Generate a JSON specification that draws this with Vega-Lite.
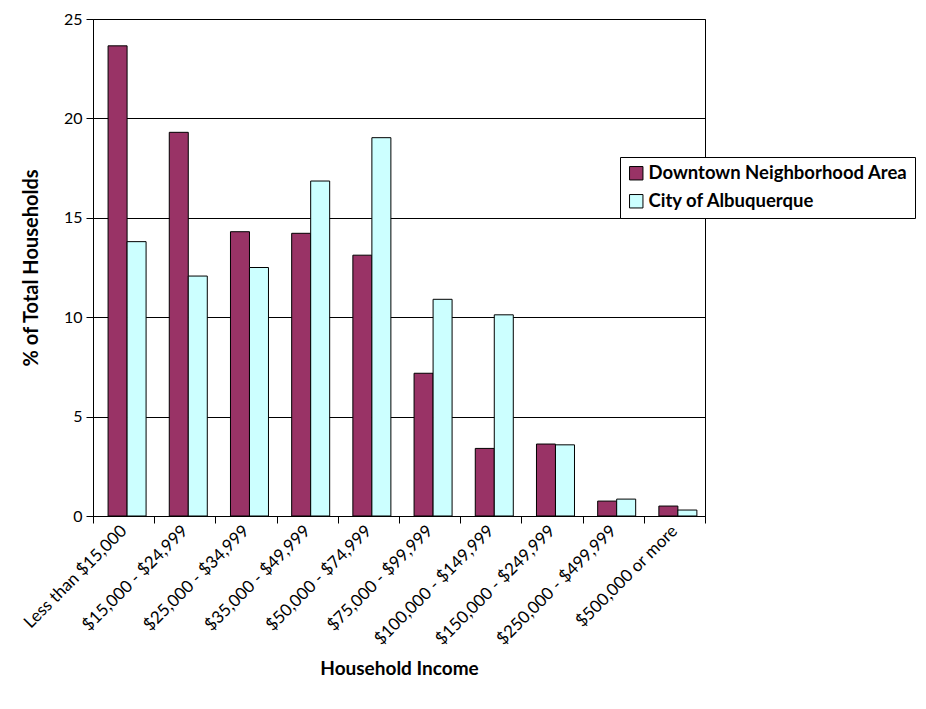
{
  "$schema": "https://vega.github.io/schema/vega-lite/v6.json",
  "width": 612,
  "height": 497,
  "autosize": "none",
  "padding": {"left": 93, "top": 19, "right": 221, "bottom": 193},
  "background": "white",
  "config": {"view": {"stroke": "black", "strokeWidth": 1}, "font": "Lato"},
  "data": {"values": [
    {"income": "Less than $15,000", "area": "Downtown Neighborhood Area", "pct": 23.65},
    {"income": "Less than $15,000", "area": "City of Albuquerque", "pct": 13.8},
    {"income": "$15,000 - $24,999", "area": "Downtown Neighborhood Area", "pct": 19.3},
    {"income": "$15,000 - $24,999", "area": "City of Albuquerque", "pct": 12.07},
    {"income": "$25,000 - $34,999", "area": "Downtown Neighborhood Area", "pct": 14.3},
    {"income": "$25,000 - $34,999", "area": "City of Albuquerque", "pct": 12.5},
    {"income": "$35,000 - $49,999", "area": "Downtown Neighborhood Area", "pct": 14.22},
    {"income": "$35,000 - $49,999", "area": "City of Albuquerque", "pct": 16.85},
    {"income": "$50,000 - $74,999", "area": "Downtown Neighborhood Area", "pct": 13.12},
    {"income": "$50,000 - $74,999", "area": "City of Albuquerque", "pct": 19.03},
    {"income": "$75,000 - $99,999", "area": "Downtown Neighborhood Area", "pct": 7.18},
    {"income": "$75,000 - $99,999", "area": "City of Albuquerque", "pct": 10.9},
    {"income": "$100,000 - $149,999", "area": "Downtown Neighborhood Area", "pct": 3.4},
    {"income": "$100,000 - $149,999", "area": "City of Albuquerque", "pct": 10.12},
    {"income": "$150,000 - $249,999", "area": "Downtown Neighborhood Area", "pct": 3.62},
    {"income": "$150,000 - $249,999", "area": "City of Albuquerque", "pct": 3.58},
    {"income": "$250,000 - $499,999", "area": "Downtown Neighborhood Area", "pct": 0.75},
    {"income": "$250,000 - $499,999", "area": "City of Albuquerque", "pct": 0.85},
    {"income": "$500,000 or more", "area": "Downtown Neighborhood Area", "pct": 0.5},
    {"income": "$500,000 or more", "area": "City of Albuquerque", "pct": 0.3}
  ]},
  "mark": {"type": "bar", "stroke": "black", "strokeWidth": 1},
  "encoding": {
    "x": {
      "field": "income", "type": "nominal", "sort": null,
      "scale": {"paddingInner": 0, "paddingOuter": 0},
      "axis": {
        "title": "Household Income",
        "titleFont": "Lato", "titleFontSize": 19, "titleFontWeight": "bold", "titleColor": "black",
        "titlePadding": 12,
        "labelAngle": -45, "labelAlign": "right", "labelBaseline": "middle",
        "labelFont": "Lato", "labelFontSize": 17, "labelColor": "black", "labelPadding": 5,
        "domainColor": "black", "tickColor": "black", "tickSize": 7, "tickBand": "extent"
      }
    },
    "xOffset": {
      "field": "area", "sort": ["Downtown Neighborhood Area", "City of Albuquerque"],
      "scale": {"paddingInner": 0, "paddingOuter": 0.61, "align": 0.65}
    },
    "y": {
      "field": "pct", "type": "quantitative",
      "scale": {"domain": [0, 25]},
      "axis": {
        "title": "% of Total Households",
        "values": [0, 5, 10, 15, 20, 25],
        "titleFont": "Lato", "titleFontSize": 20, "titleFontWeight": "bold", "titleColor": "black",
        "titlePadding": 22,
        "labelFont": "Lato", "labelFontSize": 16, "labelColor": "black", "labelPadding": 4,
        "grid": true, "gridColor": "black", "gridOpacity": 1,
        "domainColor": "black", "tickColor": "black", "tickSize": 7
      }
    },
    "color": {
      "field": "area", "type": "nominal",
      "sort": ["Downtown Neighborhood Area", "City of Albuquerque"],
      "scale": {"domain": ["Downtown Neighborhood Area", "City of Albuquerque"], "range": ["#993366", "#CCFFFF"]},
      "legend": {
        "title": null, "orient": "none", "legendX": 527, "legendY": 138,
        "strokeColor": "black", "fillColor": "white", "padding": 7,
        "symbolType": "square", "symbolSize": 180, "symbolStrokeColor": "black", "symbolStrokeWidth": 1, "symbolOpacity": 1,
        "labelFont": "Lato", "labelFontSize": 18.5, "labelFontWeight": "bold", "labelColor": "black", "labelLimit": 400,
        "rowPadding": 9, "labelOffset": 3
      }
    }
  }
}
